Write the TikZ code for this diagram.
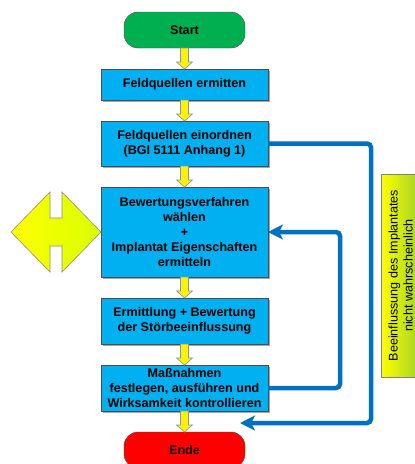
\documentclass[tikz,border=0pt]{standalone}
\usepackage{fontspec}
\setmainfont{Liberation Sans}
\usepackage{tikz}
\usetikzlibrary{positioning}
\usetikzlibrary{calc}
\usetikzlibrary{arrows.meta}
\usetikzlibrary{shadows}
\definecolor{startgreen}{RGB}{0,176,80}
\definecolor{endred}{RGB}{255,0,0}
\definecolor{boxblue}{RGB}{0,176,240}
\definecolor{linkblue}{RGB}{0,112,192}
\definecolor{arrowedge}{RGB}{120,150,190}
\definecolor{limegreen}{RGB}{160,210,40}
\tikzstyle{startstop} = [rectangle, rounded corners=14pt, minimum width=121pt, minimum height=36pt, inner sep=0pt, outer sep=0pt, text centered, draw=black!70, font=\bfseries\fontsize{12.6}{15}\selectfont]
\tikzstyle{process} = [rectangle, minimum width=167pt, inner sep=0pt, outer sep=0pt, align=center, draw=black!70, fill=boxblue, drop shadow={shadow xshift=1.5pt, shadow yshift=-1.5pt, opacity=0.35, fill=black}, font=\bfseries\fontsize{12.6}{15}\selectfont]
\tikzstyle{notebox} = [rectangle, minimum width=203pt, minimum height=39pt, inner sep=0pt, align=center, draw=black!50, font=\fontsize{12.6}{15}\selectfont]
\tikzstyle{yellowarrow} = [draw=arrowedge, line width=0.6pt, fill=yellow, line join=miter]
\tikzstyle{feedback} = [line width=4.5pt, draw=linkblue, rounded corners=4pt, -{Stealth[length=15pt, width=15pt, inset=4pt]}]
\newcommand{\flowarrow}[2]{%
  \draw [yellowarrow] ($(#1.south)+(-4,0)$) -- ($(#2.north)+(-4,-7)$) -- ($(#2.north)+(-8,-7)$) -- (#2.north) -- ($(#2.north)+(8,-7)$) -- ($(#2.north)+(4,-7)$) -- ($(#1.south)+(4,0)$) -- cycle;}
\begin{document}
\begin{tikzpicture}[x=1pt, y=-1pt, node distance=21pt]
        \useasboundingbox (0,0) rectangle (415,464);
        \node (start) [startstop, fill=startgreen] at (184.5,30) {Start};
        \node (ermitten) [process, minimum height=31pt, below=of start] {Feldquellen ermitten};
        \node (einordnen) [process, minimum height=45pt, below=of ermitten] {Feldquellen einordnen\\ (BGI 5111 Anhang 1)};
        \node (bewertung) [process, minimum height=90pt, below=of einordnen] {Bewertungsverfahren\\ wählen\\ +\\ Implantat Eigenschaften\\ ermitteln};
        \node (stoerung) [process, minimum height=46pt, below=of bewertung] {Ermittlung + Bewertung\\ der Störbeeinflussung};
        \node (massnahmen) [process, minimum height=46pt, below=of stoerung] {Maßnahmen\\ festlegen, ausführen und\\ Wirksamkeit kontrollieren};
        \node (ende) [startstop, fill=endred, below=of massnahmen] {Ende};

        \flowarrow{start}{ermitten}
        \flowarrow{ermitten}{einordnen}
        \flowarrow{einordnen}{bewertung}
        \flowarrow{bewertung}{stoerung}
        \flowarrow{stoerung}{massnahmen}
        \flowarrow{massnahmen}{ende}

        % double arrow left of the evaluation step
        \draw [draw=black!45, line width=0.6pt, left color=yellow, right color=yellow!85!green] (11,232) -- (50,192) -- (50,218) -- (62,218) -- (62,192) -- (101,232) -- (62,272) -- (62,246) -- (50,246) -- (50,272) -- cycle;

        % side note, gradient from yellow (left) to lime (right)
        \shade [left color=yellow, right color=limegreen] (381,174) rectangle (420,377);
        \node (note) [notebox, rotate=90] at (400.5,275.5) {Beeinflussung des Implantates\\ nicht wahrscheinlich};

        \coordinate (endtip) at (240,423);
        \draw [feedback] (massnahmen.east) -- ++(72,0) |- (bewertung.east);
        \draw [feedback] (einordnen.east) -- ++(103,0) |- (endtip);
    \end{tikzpicture}
\end{document}
